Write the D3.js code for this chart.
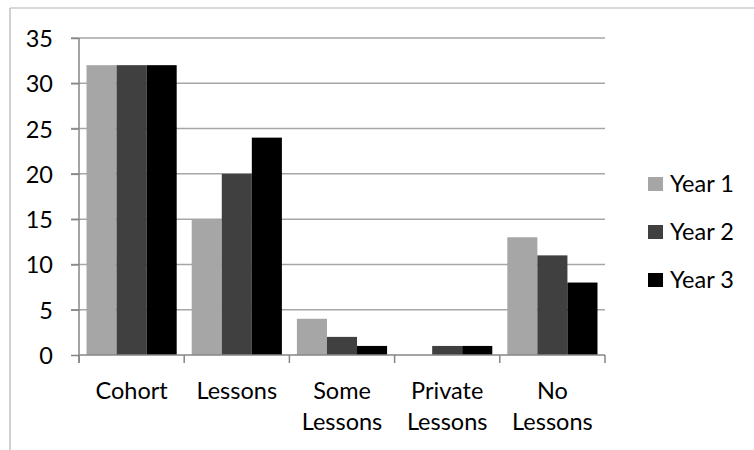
<!DOCTYPE html>
<html>
<head>
<meta charset="utf-8">
<script src="https://cdn.jsdelivr.net/npm/d3@7/dist/d3.min.js"></script>
<style>
  html, body { margin: 0; padding: 0; background: #fff; }
  svg { display: block; font-family: Lato, "Open Sans", sans-serif; }
</style>
</head>
<body>
<svg id="chart" width="754" height="450"></svg>
<script>
// Music lessons by year group
const categories = [["Cohort"], ["Lessons"], ["Some", "Lessons"], ["Private", "Lessons"], ["No", "Lessons"]];
const seriesNames = ["Year 1", "Year 2", "Year 3"];
const year1 = [32, 15, 4, 0, 13];
const year2 = [32, 20, 2, 1, 11];
const year3 = [32, 24, 1, 1, 8];
const yTicks = [0, 5, 10, 15, 20, 25, 30, 35];
const colors = ["#a6a6a6", "#404040", "#000000"];

const seriesValues = [year1, year2, year3];
const fontSize = 23.5;
const svg = d3.select("#chart");

// outer chart frame (top and left edges visible)
svg.append("line").attr("x1", 10).attr("x2", 754).attr("y1", 8).attr("y2", 8)
  .attr("stroke", "#b3b3b3").attr("stroke-width", 1.2);
svg.append("line").attr("x1", 10).attr("x2", 10).attr("y1", 8).attr("y2", 450)
  .attr("stroke", "#b3b3b3").attr("stroke-width", 1.2);

const plotLeft = 79, plotRight = 605, plotTop = 38, plotBottom = 355;

const x = d3.scaleBand().domain(d3.range(categories.length)).range([plotLeft, plotRight]).paddingInner(0).paddingOuter(0);
const xSub = d3.scaleBand().domain(d3.range(seriesNames.length))
  .range([0, x.bandwidth()]).paddingInner(0).paddingOuter(0.25);
const y = d3.scaleLinear().domain([0, 35]).range([plotBottom, plotTop]);

// gridlines
svg.append("g").selectAll("line").data(yTicks.filter(d => d > 0)).join("line")
  .attr("x1", plotLeft - 8).attr("x2", plotRight)
  .attr("y1", d => y(d)).attr("y2", d => y(d))
  .attr("stroke", "#a6a6a6").attr("stroke-width", 1.5);

// bars
const groups = svg.append("g").selectAll("g").data(categories).join("g")
  .attr("transform", (d, i) => `translate(${x(i)},0)`);
groups.selectAll("rect").data((d, i) => seriesValues.map((s, k) => ({ k, v: s[i] })))
  .join("rect")
  .attr("x", d => xSub(d.k))
  .attr("width", xSub.bandwidth())
  .attr("y", d => y(d.v))
  .attr("height", d => y(0) - y(d.v))
  .attr("fill", d => colors[d.k]);

// y axis
const yAxis = d3.axisLeft(y).tickValues(yTicks).tickSize(8).tickPadding(18);
const yg = svg.append("g").attr("transform", `translate(${plotLeft},0)`).call(yAxis);
yg.select(".domain").attr("stroke", "#868686").attr("stroke-width", 1.5)
  .attr("d", `M0,${plotTop}V${plotBottom + 8}`);
yg.selectAll(".tick line").attr("stroke", "#868686").attr("stroke-width", 1.5);
yg.selectAll(".tick text").attr("font-size", fontSize).attr("fill", "#000")
  .attr("font-family", "Lato, sans-serif").attr("dy", "0.36em");

// x axis
const xg = svg.append("g").attr("transform", `translate(0,${plotBottom})`);
xg.append("line").attr("x1", plotLeft).attr("x2", plotRight).attr("y1", 0).attr("y2", 0)
  .attr("stroke", "#868686").attr("stroke-width", 1.5);
xg.selectAll(".tk").data(d3.range(categories.length + 1)).join("line")
  .attr("class", "tk")
  .attr("x1", i => plotLeft + i * x.step()).attr("x2", i => plotLeft + i * x.step())
  .attr("y1", 0).attr("y2", 8)
  .attr("stroke", "#868686").attr("stroke-width", 1.5);
const labels = xg.selectAll("text").data(categories).join("text")
  .attr("x", (d, i) => x(i) + x.bandwidth() / 2)
  .attr("text-anchor", "middle")
  .attr("font-size", fontSize).attr("fill", "#000");
labels.selectAll("tspan").data(d => d).join("tspan")
  .attr("x", function () { return d3.select(this.parentNode).attr("x"); })
  .attr("y", (d, j) => 44 + j * 31)
  .text(d => d);

// legend
const legend = svg.append("g").selectAll("g").data(seriesNames).join("g")
  .attr("transform", (d, i) => `translate(648,${184 + i * 48})`);
legend.append("rect").attr("x", 0).attr("y", -7).attr("width", 15).attr("height", 14)
  .attr("fill", (d, i) => colors[i]);
legend.append("text").attr("x", 22).attr("y", 0).attr("dy", "0.36em")
  .attr("font-size", fontSize).attr("fill", "#000").text(d => d);
</script>
</body>
</html>
